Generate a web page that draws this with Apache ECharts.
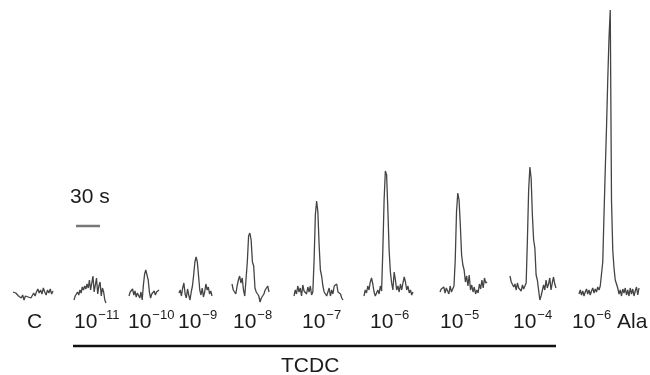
<!DOCTYPE html>
<html><head><meta charset="utf-8">
<script src="https://cdn.jsdelivr.net/npm/echarts@6/dist/echarts.min.js"></script>
<style>html,body{margin:0;padding:0;background:#fff}#c{width:650px;height:375px}</style>
</head><body><div id="c"></div>
<script>
// ---- data ----
const labelBase = ['C', '10', '10', '10', '10', '10', '10', '10', '10', '10'];
const labelExp = ['', '\u221211', '\u221210', '\u22129', '\u22128', '\u22127', '\u22126', '\u22125', '\u22124', '\u22126'];
const labelSuffix = ['', '', '', '', '', '', '', '', '', ' Ala'];
const groupLabel = 'TCDC';
const scaleLabel = '30 s';

const traceC = [3,5,2,4,-1,1,-3,0,-5,-1,1,-2,0,-3,-1,2,-1,3,6,2,5,1,7,3,0,5,2,6,1,4];
const trace11 = [-5,-1,-3,3,0,5,2,8,5,9,6,11,7,15,5,12,19,3,10,17,1,9,13,-1,7,3,-5,-8];
const trace10 = [-1,3,1,6,0,4,-2,2,1,-3,3,-5,10,21,25,23,15,3,-3,1,-1,4,0,3,1,5];
const trace9 = [2,5,-1,7,12,1,-3,6,0,-5,3,9,20,33,38,33,19,5,0,7,-2,3,11,5,8,1,4,-1];
const trace8 = [11,5,7,1,9,15,19,12,17,5,-1,-3,33,59,62,55,33,29,7,3,5,-1,-7,-3,-5,1,5,3,9,3];
const trace7 = [-1,5,1,9,3,7,-1,10,4,6,1,8,3,9,0,3,35,80,94,83,50,25,19,9,3,5,-1,1,7,-1,5,1,9,7,11,3,5,1,-3,-5];
const trace6 = [-1,5,2,9,5,13,17,11,3,-1,-2,5,1,9,4,45,95,124,120,85,45,23,12,5,23,15,5,9,3,11,5,12,18,13,5,9,2,5,0,3];
const trace5 = [3,6,4,8,2,7,5,1,9,3,6,9,35,83,102,95,70,40,30,25,13,19,9,20,5,10,3,8,1,5,2,11,6,15,7,17,12,13];
const trace4 = [19,13,15,8,11,5,12,7,9,4,10,6,8,12,55,105,128,117,80,55,47,20,15,5,-5,-1,-3,10,5,15,7,11,17,5,12,18,11,7];
const traceAla = [1,5,0,4,-1,3,6,1,5,0,4,7,2,6,3,8,5,9,7,33,80,125,167,215,257,285,95,45,27,15,11,7,1,5,-1,6,2,7,0,5,-1,7,1,6,-1,4,8,0,7];

const traces = [traceC, trace11, trace10, trace9, trace8, trace7, trace6, trace5, trace4, traceAla];

// ---- layout ----
const traceBox = [[13,40],[74,32],[129,30],[179,33],[232,37],[294,49],[364,49],[440,47],[510,46],[579,60]];
const labelLeft = [27,74,128,178,233,302,370,440,513,572];
const FONT = '"Liberation Sans", Arial, Helvetica, sans-serif';
const TXT = '#1c1c1c';

const grid = [], xAxis = [], yAxis = [], series = [], graphic = [];
traces.forEach((vals, i) => {
  grid.push({left: traceBox[i][0], width: traceBox[i][1], top: 0, height: 310});
  xAxis.push({type: 'value', gridIndex: i, min: 0, max: vals.length - 1, show: false});
  yAxis.push({type: 'value', gridIndex: i, min: -15, max: 295, show: false});
  series.push({
    type: 'line', xAxisIndex: i, yAxisIndex: i, symbol: 'none', silent: true,
    data: vals.map((v, k) => [k, v]),
    lineStyle: {color: '#444', width: 1.3}
  });
  const txt = labelExp[i]
    ? '{b|' + labelBase[i] + '}{s|' + labelExp[i] + '}' + (labelSuffix[i] ? '{b|' + labelSuffix[i] + '}' : '')
    : '{b|' + labelBase[i] + '}';
  graphic.push({
    type: 'text', left: labelLeft[i], top: labelExp[i] ? 309 : 312,
    style: {
      text: txt, fill: TXT,
      rich: {
        b: {fontSize: 21, fontFamily: FONT, fill: TXT},
        s: {fontSize: 13, fontFamily: FONT, fill: TXT, padding: [0, 0, 13, 1]}
      }
    }
  });
});

graphic.push({type: 'line', shape: {x1: 73, y1: 346, x2: 556, y2: 346}, style: {stroke: '#111', lineWidth: 2.5}});
graphic.push({type: 'text', left: 281, top: 356, style: {text: groupLabel, fill: TXT, font: '21px ' + FONT}});
graphic.push({type: 'line', shape: {x1: 76, y1: 226, x2: 100, y2: 226}, style: {stroke: '#777', lineWidth: 2.5}});
graphic.push({type: 'text', left: 70, top: 187, style: {text: scaleLabel, fill: TXT, font: '21px ' + FONT}});

const chart = echarts.init(document.getElementById('c'), null, {renderer: 'canvas'});
chart.setOption({animation: false, backgroundColor: '#fff', grid, xAxis, yAxis, series, graphic});
</script>
</body></html>
